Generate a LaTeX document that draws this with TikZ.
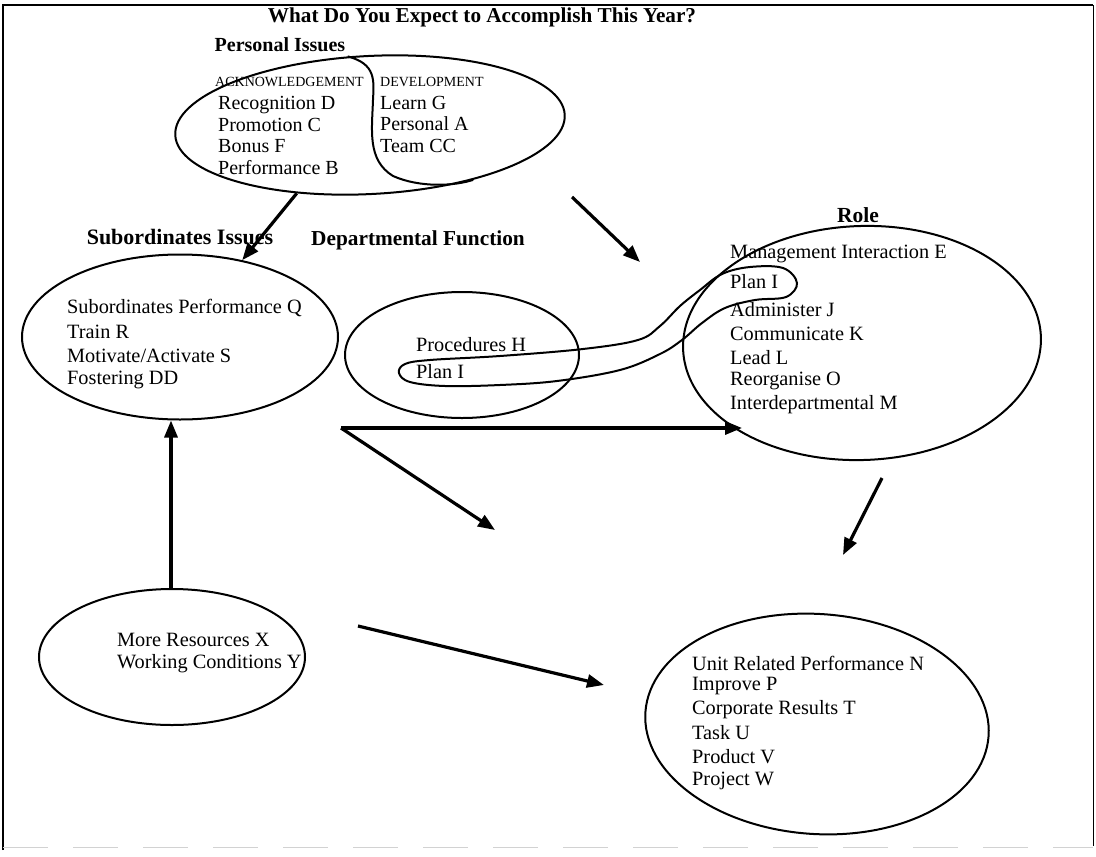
\documentclass[tikz,border=0pt]{standalone}
\usepackage{fontspec}
\setmainfont{Liberation Serif}
\usetikzlibrary{shapes.geometric,arrows.meta}
\begin{document}
\begin{tikzpicture}[x=1pt,y=-1pt,
  oval/.style={draw,ellipse,line width=2pt,inner sep=0pt},
  lbl/.style={font=\fontsize{20.5}{24}\selectfont\bfseries,inner sep=0pt},
  txt/.style={font=\fontsize{20.3}{23.5}\selectfont,anchor=west,inner sep=0pt},
  ptxt/.style={font=\fontsize{20}{21.5}\selectfont,anchor=west,align=left,inner sep=0pt},
  smallcap/.style={font=\fontsize{14}{16}\selectfont,anchor=west,inner sep=0pt},
  arr/.style={line width=3.2pt,-{Triangle[length=17pt,width=13pt]}}]
\useasboundingbox (0,0) rectangle (1096,857);
% frame
\draw[line width=1.8pt] (3,850) -- (3,5) -- (1093,5);
\draw[line width=1pt] (1093,5) -- (1093,846);
\draw[gray!35,line width=1pt,dash pattern=on 45pt off 25pt] (3,847) -- (1093,847);
% title and labels
\node[lbl,font=\fontsize{21.2}{24}\selectfont\bfseries] (title) at (482,17) {What Do You Expect to Accomplish This Year?};
\node[lbl,font=\fontsize{20}{24}\selectfont\bfseries] (perslbl) at (280,45) {Personal Issues};
\node[lbl,font=\fontsize{22}{24}\selectfont\bfseries] (sublbl) at (180,237) {Subordinates Issues};
\node[lbl,font=\fontsize{21.3}{24}\selectfont\bfseries] (deptlbl) at (418,240) {Departmental Function};
\node[lbl,font=\fontsize{21.5}{24}\selectfont\bfseries] (rolelbl) at (858,215) {Role};
% ellipses
\node[oval,minimum width=390pt,minimum height=138pt,rotate=3] (pers) at (370,125) {};
\node[oval,minimum width=316pt,minimum height=165pt] (sub) at (180,337) {};
\node[oval,minimum width=234pt,minimum height=126pt] (dept) at (462,355) {};
\node[oval,minimum width=358pt,minimum height=234pt,rotate=2] (role) at (862,343) {};
\node[oval,minimum width=266pt,minimum height=136pt] (res) at (172,657) {};
\node[oval,minimum width=344pt,minimum height=220pt,rotate=-4] (unit) at (817,724) {};
% personal divider
\draw[line width=2pt] (pers.105) .. controls (376,64) and (374,80) .. (373,100)
  .. controls (372,130) and (367,160) .. (393,176) .. controls (420,188) and (455,186) .. (pers.-31);
% personal texts
\node[smallcap] (ack) at (215,82) {ACKNOWLEDGEMENT};
\node[ptxt] (acklist) at (218,135.5) {Recognition D\\Promotion C\\Bonus F\\Performance B};
\node[smallcap] (dev) at (380,82) {DEVELOPMENT};
\node[ptxt] (devlist) at (380,124) {Learn G\\Personal A\\Team CC};
% subordinates
\node[txt] (s1) at (67,308) {Subordinates Performance Q};
\node[txt] (s2) at (67,332) {Train R};
\node[txt] (s3) at (67,356) {Motivate/Activate S};
\node[txt] (s4) at (67,380) {Fostering DD};
% departmental
\node[txt] (d1) at (416,345) {Procedures H};
\node[txt] (d2) at (416,372) {Plan I};
% role
\node[txt] (r1) at (730,254) {Management Interaction E};
\node[txt] (r2) at (730,282) {Plan I};
\node[txt] (r3) at (730,310) {Administer J};
\node[txt] (r4) at (730,334) {Communicate K};
\node[txt] (r5) at (730,358) {Lead L};
\node[txt] (r6) at (730,381) {Reorganise O};
\node[txt] (r7) at (730,405) {Interdepartmental M};
% resources
\node[txt] (x1) at (117,640) {More Resources X};
\node[txt] (x2) at (117,664) {Working Conditions Y};
% unit
\node[txt] (u1) at (692,663) {Unit Related Performance N};
\node[txt] (u2) at (692,686) {Improve P};
\node[txt] (u3) at (692,710) {Corporate Results T};
\node[txt] (u4) at (692,733) {Task U};
\node[txt] (u5) at (692,757) {Product V};
\node[txt] (u6) at (692,781) {Project W};
% Plan I loop
\draw[line width=2pt] plot[smooth cycle,tension=0.6] coordinates {
 (797,283) (783,268) (750,267) (722,274) (700,290) (680,306) (660,326) (638,340)
 (583,349) (500,356) (430,360) (405,364) (399,373) (410,382) (445,386)
 (500,385) (557,381) (620,370) (660,354) (682,340) (702,323) (725,308) (755,300) (786,297)};
% free arrow ends
\coordinate (a2s) at (572,197);
\coordinate (a2e) at (640,262);
\coordinate (hub) at (341,428);
\coordinate (diage) at (495,530);
\coordinate (vs) at (171,590);
\coordinate (rs) at (882,478);
\coordinate (re) at (843,555);
\coordinate (ms) at (358,626);
\coordinate (me) at (604,685);
% arrows
\draw[arr] (pers.220) -- (sub.51);
\draw[arr] (a2s) -- (a2e);
\draw[arr] (hub) -- (hub -| role.215);
\draw[arr] (hub) -- (diage);
\draw[arr] (vs) -- (vs |- sub.south);
\draw[arr] (rs) -- (re);
\draw[arr] (ms) -- (me);
\end{tikzpicture}
\end{document}
